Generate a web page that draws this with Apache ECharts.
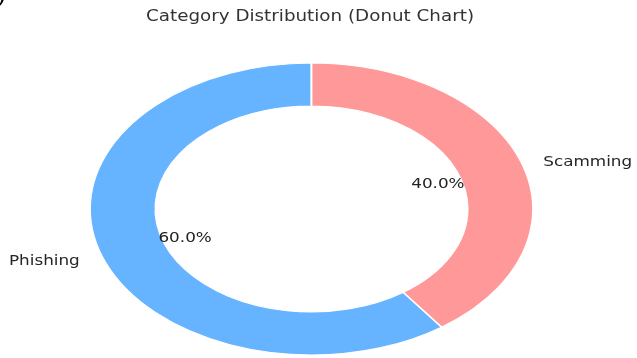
<!DOCTYPE html>
<html>
<head>
<meta charset="utf-8">
<script src="https://cdn.jsdelivr.net/npm/echarts@6/dist/echarts.min.js"></script>
<style>
  html, body { margin: 0; padding: 0; background: #fff; }
  #chart { width: 637px; height: 358px; }
</style>
</head>
<body>
<div id="chart"></div>
<script>
// Donut data
const categories = ['Phishing', 'Scamming'];
const values = [60, 40];
const colors = ['#66b3ff', '#ff9999'];
const chartTitle = 'Category Distribution (Donut Chart)';

// Layout: the ring is drawn as an ellipse (horizontal radius RX, vertical RY)
const CX = 311.5, CY = 209;
const RX = 221.5, RY = 146;
const HOLE = 0.705;          // inner radius as a share of the outer radius
const PCT_DIST = 0.6;        // percentage labels, relative to outer radius
const NAME_DIST = 1.1;       // category labels, relative to outer radius
const LABEL_DY = 2.5;        // small downward nudge for label baselines
const TEXT_SX = 1.2;         // horizontal stretch applied to all text
const FONT = '"DejaVu Sans", sans-serif';

const total = values.reduce((a, b) => a + b, 0);
const offsets = [];
values.reduce((acc, v) => { offsets.push(acc); return acc + v; }, 0);

function renderItem(params, api) {
  const i = params.dataIndex;
  const v = api.value(1);
  const frac = v / total;
  // start at 12 o'clock and go counter-clockwise
  const a0 = Math.PI / 2 + 2 * Math.PI * offsets[i] / total;
  const a1 = a0 + 2 * Math.PI * frac;
  const mid = (a0 + a1) / 2;
  const c = Math.cos(mid), s = Math.sin(mid);
  return {
    type: 'group',
    children: [
      {
        type: 'sector',
        x: CX, y: CY,
        scaleX: RX / RY,
        shape: { cx: 0, cy: 0, r: RY, r0: RY * HOLE, startAngle: -a0, endAngle: -a1, clockwise: false },
        style: { fill: colors[i], stroke: '#ffffff', lineWidth: 1.2 }
      },
      {
        type: 'text',
        x: CX + PCT_DIST * RX * c,
        y: CY - PCT_DIST * RY * s + LABEL_DY,
        scaleX: TEXT_SX,
        style: {
          text: (frac * 100).toFixed(1) + '%',
          align: 'center', verticalAlign: 'middle',
          fontSize: 14, fontFamily: FONT, fill: '#222222'
        }
      },
      {
        type: 'text',
        x: CX + NAME_DIST * RX * c,
        y: CY - NAME_DIST * RY * s + LABEL_DY,
        scaleX: TEXT_SX,
        style: {
          text: categories[i],
          align: c >= 0 ? 'left' : 'right', verticalAlign: 'middle',
          fontSize: 14, fontFamily: FONT, fill: '#262626'
        }
      }
    ]
  };
}

const chart = echarts.init(document.getElementById('chart'));
chart.setOption({
  backgroundColor: '#ffffff',
  animation: false,
  graphic: [
    {
      type: 'text', x: 310, y: 17.5, scaleX: 1.22,
      style: {
        text: chartTitle, align: 'center', verticalAlign: 'middle',
        fontSize: 15, fontFamily: FONT, fill: '#333333'
      }
    },
    {
      type: 'text', x: -3, y: 9,
      style: {
        text: ')', align: 'left', verticalAlign: 'bottom',
        fontSize: 26, fontStyle: 'italic', fontFamily: '"Liberation Serif", serif', fill: '#000000'
      }
    }
  ],
  series: [{
    type: 'custom',
    coordinateSystem: 'none',
    renderItem: renderItem,
    data: values.map((v, i) => [i, v])
  }]
});
</script>
</body>
</html>
